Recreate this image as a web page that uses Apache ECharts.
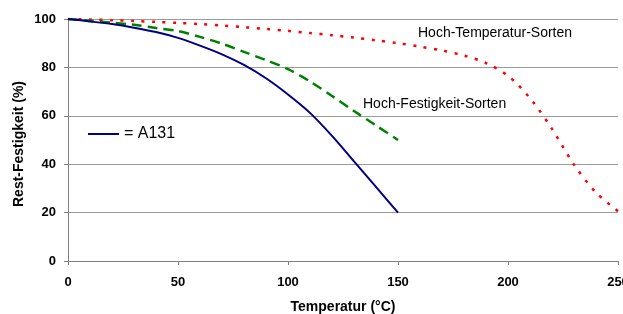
<!DOCTYPE html>
<html>
<head>
<meta charset="utf-8">
<script src="https://cdn.jsdelivr.net/npm/echarts@6/dist/echarts.min.js"></script>
<style>
  html, body { margin: 0; padding: 0; background: #ffffff; }
  #chart { width: 623px; height: 314px; }
</style>
</head>
<body>
<div id="chart"></div>
<script>
// Temperatur-Stützstellen (°C)
var tempShort = [0, 10, 20, 30, 40, 50, 60, 70, 80, 90, 100, 110, 120, 130, 140, 150];
var tempLong = [0, 10, 20, 30, 40, 50, 60, 70, 80, 90, 100, 110, 120, 130, 140, 150,
  160, 170, 180, 190, 200, 210, 220, 230, 240, 250];

// Rest-Festigkeit (%)
var a131 = [100, 99, 97.9, 96.4, 94.6, 92.2, 89, 85.4, 81, 75.5, 68.8, 61.2, 51.7, 41.2, 30.6, 20];
var hochFestigkeit = [100, 99.3, 98.5, 97.6, 96.3, 95, 92.6, 89.8, 86.4, 83, 79.3, 74.2, 68.2, 62, 56, 50];
var hochTemperatur = [100, 99.8, 99.5, 99.2, 98.8, 98.4, 97.9, 97.3, 96.6, 95.9, 95.1, 94.2, 93.3, 92.3, 91.2,
  90, 88.6, 87, 84.9, 81.8, 76.5, 67.3, 54.6, 39.8, 28.3, 20.6];

var xTicks = { min: 0, max: 250, step: 50 };
var yTicks = { min: 0, max: 100, step: 20 };

function pairs(xs, ys) {
  return xs.map(function (x, i) { return [x, ys[i]]; });
}

var font = 'Liberation Sans, Arial, sans-serif';

var option = {
  backgroundColor: '#ffffff',
  animation: false,
  textStyle: { fontFamily: font },
  grid: { left: 68, right: 5, top: 19, bottom: 53, outerBoundsMode: 'none', containLabel: false },
  legend: {
    data: ['A131'],
    left: 83,
    top: 121,
    icon: 'rect',
    itemWidth: 31,
    itemHeight: 2,
    formatter: '= A131',
    textStyle: { fontFamily: font, fontSize: 16, color: '#000000' }
  },
  xAxis: {
    type: 'value',
    min: xTicks.min,
    max: xTicks.max,
    interval: xTicks.step,
    name: 'Temperatur (°C)',
    nameLocation: 'middle',
    nameGap: 39,
    nameTextStyle: { fontFamily: font, fontSize: 14, fontWeight: 'bold', color: '#000000' },
    axisLine: { lineStyle: { color: '#808080', width: 1 } },
    axisTick: { show: true, inside: false, length: 4, lineStyle: { color: '#808080' } },
    axisLabel: { margin: 15, fontFamily: font, fontSize: 13, fontWeight: 'bold', color: '#000000' },
    splitLine: { show: false }
  },
  yAxis: {
    type: 'value',
    min: yTicks.min,
    max: yTicks.max,
    interval: yTicks.step,
    axisLine: { show: true, lineStyle: { color: '#808080', width: 1 } },
    axisTick: { show: true, inside: false, length: 4, lineStyle: { color: '#808080' } },
    axisLabel: { margin: 12, fontFamily: font, fontSize: 13, fontWeight: 'bold', color: '#000000' },
    splitLine: { show: true, lineStyle: { color: '#999999', width: 1 } }
  },
  graphic: [
    {
      type: 'text',
      x: 19,
      y: 144,
      rotation: Math.PI / 2,
      style: {
        text: 'Rest-Festigkeit (%)',
        fontFamily: font,
        fontSize: 14,
        fontWeight: 'bold',
        fill: '#000000',
        align: 'center',
        verticalAlign: 'middle'
      }
    },
    {
      type: 'text',
      left: 418,
      top: 26,
      style: { text: 'Hoch-Temperatur-Sorten', fontFamily: font, fontSize: 14, fill: '#000000' }
    },
    {
      type: 'text',
      left: 363,
      top: 97,
      style: { text: 'Hoch-Festigkeit-Sorten', fontFamily: font, fontSize: 14, fill: '#000000' }
    }
  ],
  series: [
    {
      name: 'Hoch-Temperatur',
      type: 'line',
      data: pairs(tempLong, hochTemperatur),
      smooth: 0.3,
      symbol: 'none',
      lineStyle: { color: '#ff0000', width: 2.5, type: [3, 7.5] },
      itemStyle: { color: '#ff0000' }
    },
    {
      name: 'Hoch-Festigkeit',
      type: 'line',
      data: pairs(tempShort, hochFestigkeit),
      smooth: 0.3,
      symbol: 'none',
      lineStyle: { color: '#008000', width: 2.5, type: [10, 6] },
      itemStyle: { color: '#008000' }
    },
    {
      name: 'A131',
      type: 'line',
      data: pairs(tempShort, a131),
      smooth: 0.3,
      symbol: 'none',
      lineStyle: { color: '#000080', width: 2 },
      itemStyle: { color: '#000080' }
    }
  ]
};

var myChart = echarts.init(document.getElementById('chart'), null, { renderer: 'canvas' });
myChart.setOption(option);
window.onresize = function () { myChart.resize(); };
</script>
</body>
</html>
